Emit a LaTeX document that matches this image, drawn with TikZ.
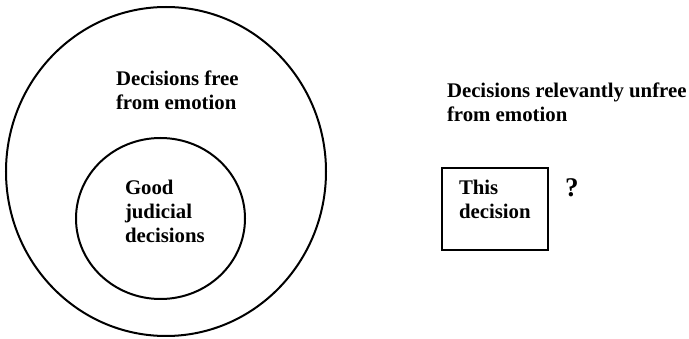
\documentclass[tikz,border=0pt]{standalone}
\usepackage{fontspec}
\setmainfont{Liberation Serif}
\tikzset{
  lbl/.style={anchor=base west,inner sep=0pt,align=left,
    font=\fontsize{20.8}{24}\selectfont\bfseries},
}
\begin{document}
\begin{tikzpicture}[x=1pt,y=-1pt,line width=2pt]
      \useasboundingbox (0,0) rectangle (689,339);
      \draw (166,171.5) ellipse (160 and 164.5);
      \draw (160.5,218.5) ellipse (84.5 and 80.5);
      \node[lbl] (free) at (115,110) {Decisions free\\from emotion};
      \node[lbl] (good) at (124,243) {Good\\judicial\\decisions};
      \node[lbl] (unfree) at (446,122) {Decisions relevantly unfree\\from emotion};
      \node[draw,minimum width=106pt,minimum height=82pt,inner sep=0pt] (thisbox) at (495,209) {};
      \node[lbl] (this) at (458,219) {This\\decision};
      \node[lbl,font=\fontsize{27}{30}\selectfont\bfseries] (query) at (564,197) {?};
\end{tikzpicture}
\end{document}
